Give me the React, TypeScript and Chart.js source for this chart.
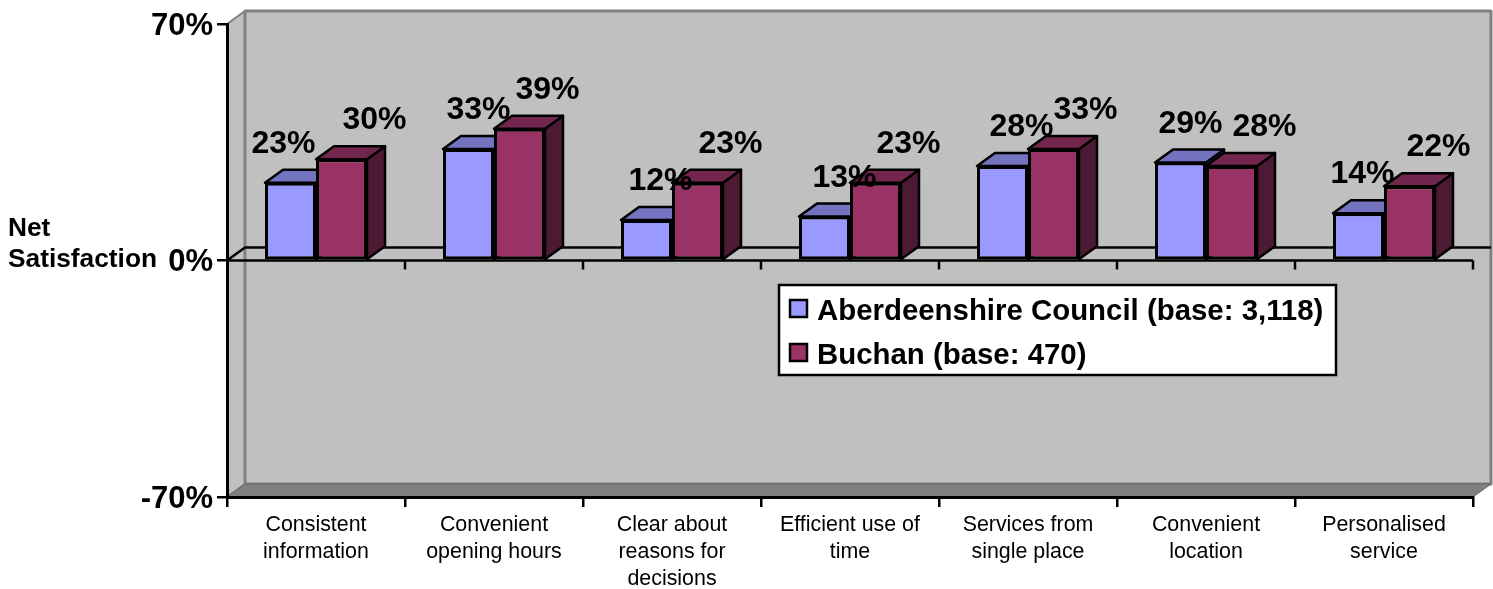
import React, { useEffect, useRef } from "react";
import { Chart, registerables } from "chart.js";

Chart.register(...registerables);

const categories = [
  ["Consistent", "information"],
  ["Convenient", "opening hours"],
  ["Clear about", "reasons for", "decisions"],
  ["Efficient use of", "time"],
  ["Services from", "single place"],
  ["Convenient", "location"],
  ["Personalised", "service"],
];
const aberdeenshire = [23, 33, 12, 13, 28, 29, 14];
const buchan = [30, 39, 23, 23, 33, 28, 22];
const seriesNames = ["Aberdeenshire Council (base: 3,118)", "Buchan (base: 470)"];
const yTicks = [-70, 0, 70];
const axisTitle = ["Net", "Satisfaction"];

const labelShiftA = [-7, 10, 14, 20, 19, 10, 4];
const labelShiftB = [33, 28, 33, 33, 32, 33, 29];

const FONT = '"Liberation Sans", Arial, sans-serif';
const DX = 18;
const DY = 13;
const BLUE = ["#9999ff", "#7373bf", "#4d4d80"];
const MAROON = ["#993366", "#73264d", "#4d1a33"];

function poly(ctx: CanvasRenderingContext2D, pts: number[][], fill: string | null, stroke: string | null, lw = 2.5) {
  ctx.beginPath();
  pts.forEach((p, i) => (i ? ctx.lineTo(p[0], p[1]) : ctx.moveTo(p[0], p[1])));
  ctx.closePath();
  if (fill) {
    ctx.fillStyle = fill;
    ctx.fill();
  }
  if (stroke) {
    ctx.strokeStyle = stroke;
    ctx.lineWidth = lw;
    ctx.lineJoin = "round";
    ctx.stroke();
  }
}

function extrude(chart: any, index: number) {
  const { ctx } = chart;
  const colors = index === 0 ? BLUE : MAROON;
  ctx.save();
  chart.getDatasetMeta(index).data.forEach((bar: any) => {
    const l = bar.x - bar.width / 2;
    const r = bar.x + bar.width / 2;
    poly(ctx, [[r, bar.y], [r + DX, bar.y - DY], [r + DX, bar.base - DY], [r, bar.base]], colors[2], "#000000");
    poly(ctx, [[l, bar.y], [l + DX, bar.y - DY], [r + DX, bar.y - DY], [r, bar.y]], colors[1], "#000000");
  });
  ctx.restore();
}

function valueLabels(chart: any, index: number) {
  const { ctx } = chart;
  const shifts = index === 0 ? labelShiftA : labelShiftB;
  const values = chart.data.datasets[index].data;
  ctx.save();
  ctx.font = `bold 32px ${FONT}`;
  ctx.fillStyle = "#000000";
  ctx.textAlign = "center";
  ctx.textBaseline = "alphabetic";
  chart.getDatasetMeta(index).data.forEach((bar: any, i: number) => {
    ctx.fillText(`${values[i]}%`, bar.x + shifts[i], bar.y - 30);
  });
  ctx.restore();
}

const scene3d = {
  id: "scene3d",
  beforeDraw(chart: any) {
    const { ctx, chartArea: a } = chart;
    ctx.save();
    ctx.fillStyle = "#ffffff";
    ctx.fillRect(0, 0, chart.width, chart.height);
    poly(ctx, [[a.left, a.top], [a.left + DX, a.top - DY], [a.left + DX, a.bottom - DY], [a.left, a.bottom]], "#c0c0c0", "#808080", 2);
    poly(ctx, [[a.left + DX, a.top - DY], [a.right + DX, a.top - DY], [a.right + DX, a.bottom - DY], [a.left + DX, a.bottom - DY]], "#c0c0c0", "#808080", 3);
    poly(ctx, [[a.left, a.bottom], [a.left + DX, a.bottom - DY], [a.right + DX, a.bottom - DY], [a.right, a.bottom]], "#808080", "#666666", 1);
    ctx.restore();
  },
  beforeDatasetsDraw(chart: any) {
    const { ctx, chartArea: a, scales } = chart;
    const y0 = scales.y.getPixelForValue(0);
    ctx.save();
    ctx.strokeStyle = "#000000";
    ctx.lineWidth = 2.5;
    ctx.beginPath();
    ctx.moveTo(a.left, y0);
    ctx.lineTo(a.left + DX, y0 - DY);
    ctx.lineTo(a.right + DX, y0 - DY);
    ctx.moveTo(a.left, y0);
    ctx.lineTo(a.right, y0);
    const step = (a.right - a.left) / categories.length;
    for (let i = 1; i <= categories.length; i++) {
      ctx.moveTo(a.left + step * i, y0);
      ctx.lineTo(a.left + step * i, y0 + 9);
    }
    ctx.stroke();
    ctx.restore();
  },
  // Chart.js paints the last dataset first; the maroon series has to sit over
  // the blue one, so it is held back and painted straight after the blue series.
  beforeDatasetDraw(chart: any, args: any) {
    if (args.index === 1) return false;
    extrude(chart, 0);
    return true;
  },
  afterDatasetDraw(chart: any, args: any) {
    if (args.index !== 0) return;
    extrude(chart, 1);
    chart.getDatasetMeta(1).controller.draw();
  },
  afterDatasetsDraw(chart: any) {
    valueLabels(chart, 0);
    valueLabels(chart, 1);
  },
  afterDraw(chart: any) {
    const { ctx } = chart;
    ctx.save();
    ctx.fillStyle = "#000000";
    ctx.textBaseline = "alphabetic";
    ctx.textAlign = "left";
    ctx.font = `bold 26.3px ${FONT}`;
    axisTitle.forEach((t, i) => ctx.fillText(t, 8, 236 + i * 30.5));

    ctx.fillStyle = "#ffffff";
    ctx.strokeStyle = "#000000";
    ctx.lineWidth = 2.5;
    ctx.fillRect(779, 285, 557, 90);
    ctx.strokeRect(779, 285, 557, 90);
    ctx.font = `bold 29.4px ${FONT}`;
    seriesNames.forEach((name, i) => {
      const top = 300 + i * 44;
      ctx.fillStyle = i === 0 ? BLUE[0] : MAROON[0];
      ctx.fillRect(790, top, 17, 17);
      ctx.strokeRect(790, top, 17, 17);
      ctx.fillStyle = "#000000";
      ctx.fillText(name, 817, top + 20);
    });
    ctx.restore();
  },
};

export default function App() {
  const ref = useRef<HTMLCanvasElement>(null);
  useEffect(() => {
    document.body.style.margin = "0";
    const chart = new Chart(ref.current as HTMLCanvasElement, {
      type: "bar",
      data: {
        labels: categories as any,
        datasets: [
          { label: seriesNames[0], data: aberdeenshire, backgroundColor: BLUE[0] },
          { label: seriesNames[1], data: buchan, backgroundColor: MAROON[0] },
        ],
      },
      options: {
        responsive: false,
        animation: false,
        layout: { padding: { top: 24, right: 20, left: 0, bottom: 0 } },
        datasets: {
          bar: {
            categoryPercentage: 0.573,
            barPercentage: 1,
            borderColor: "#000000",
            borderWidth: 3,
            borderSkipped: false,
          },
        },
        plugins: { legend: { display: false }, tooltip: { enabled: false }, title: { display: false } },
        scales: {
          x: {
            position: "bottom",
            grid: { drawOnChartArea: false, offset: true, color: "#000000", lineWidth: 2.5, tickLength: 10, tickColor: "#000000" },
            border: { display: true, color: "#000000", width: 3 },
            ticks: {
              autoSkip: false,
              maxRotation: 0,
              minRotation: 0,
              padding: 5,
              color: "#000000",
              font: { family: FONT, size: 21.4, lineHeight: 1.26 },
            },
            afterFit: (s: any) => {
              s.height = 92;
            },
          },
          y: {
            min: yTicks[0],
            max: yTicks[2],
            afterBuildTicks: (s: any) => {
              s.ticks = yTicks.map((value) => ({ value }));
            },
            grid: { drawOnChartArea: false, color: "#000000", lineWidth: 2.5, tickLength: 10, tickColor: "#000000" },
            border: { display: true, color: "#000000", width: 3 },
            ticks: {
              padding: 4,
              labelOffset: 2,
              color: "#000000",
              font: { family: FONT, size: 31, weight: "bold" },
              callback: (v: any) => `${v}%`,
            },
            afterFit: (s: any) => {
              s.width = 227;
            },
          },
        },
      } as any,
      plugins: [scene3d],
    });
    return () => chart.destroy();
  }, []);
  return (
    <canvas
      ref={ref}
      width={1493}
      height={589}
      style={{ position: "fixed", left: 0, top: 0, display: "block", width: 1493, height: 589 }}
    />
  );
}
